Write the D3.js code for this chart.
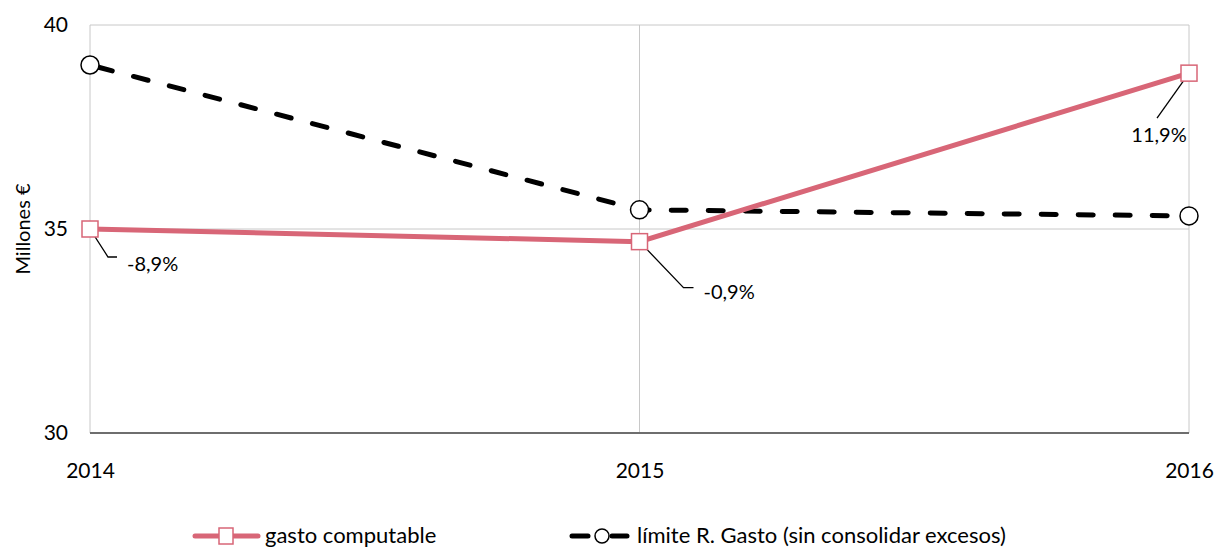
<!DOCTYPE html>
<html><head><meta charset="utf-8">
<script src="https://cdn.jsdelivr.net/npm/d3@7"></script>
<style>body{margin:0;background:#fff}svg{display:block;font-family:Lato,"Open Sans",sans-serif}</style>
</head><body><div id="c"></div>
<script>
const years = ["2014","2015","2016"];
const gasto = [35.0, 34.69, 38.82];
const limite = [39.02, 35.47, 35.32];
const gastoLabels = ["-8,9%","-0,9%","11,9%"];
const yTicks = [30,35,40];
const seriesNames = ["gasto computable","límite R. Gasto (sin consolidar excesos)"];

const W=1219,H=550;
const svg=d3.select("#c").append("svg").attr("width",W).attr("height",H);
const x=d3.scalePoint().domain(years).range([90,1189]);
const y=d3.scaleLinear().domain([30,40]).range([433,25]);
const pink="#d86677";
const fs=21;

// grid
const g=svg.append("g");
g.selectAll(".hg").data(yTicks).join("line").attr("x1",90).attr("x2",1189)
 .attr("y1",d=>y(d)).attr("y2",d=>y(d)).attr("stroke","#c8c8c8").attr("stroke-width",1);
g.selectAll(".vg").data(years).join("line").attr("x1",d=>x(d)).attr("x2",d=>x(d))
 .attr("y1",25).attr("y2",433).attr("stroke","#c8c8c8").attr("stroke-width",1);
g.append("line").attr("x1",90).attr("x2",1189).attr("y1",433).attr("y2",433).attr("stroke","#6e6e6e").attr("stroke-width",2);

// axes labels
const yAxis=d3.axisLeft(y).tickValues(yTicks).tickSize(0).tickPadding(22);
const ya=svg.append("g").attr("transform","translate(90,0)").call(yAxis);
ya.select(".domain").remove();
ya.selectAll("text").attr("font-size",fs).attr("fill","#000").style("font-family","Lato");
const xAxis=d3.axisBottom(x).tickSize(0).tickPadding(30);
const xa=svg.append("g").attr("transform","translate(0,433)").call(xAxis);
xa.select(".domain").remove();
xa.selectAll("text").attr("font-size",fs).attr("fill","#000").style("font-family","Lato");

svg.append("text").attr("transform","translate(30,229) rotate(-90)").attr("text-anchor","middle")
 .attr("font-size",20).text("Millones €");

// lines
const line=d3.line().x((d,i)=>x(years[i])).y(d=>y(d));
svg.append("path").datum(limite).attr("d",line).attr("fill","none").attr("stroke","#000")
 .attr("stroke-width",5).attr("stroke-dasharray","15,22").attr("stroke-dashoffset",-8).attr("stroke-linecap","round");
svg.append("path").datum(gasto).attr("d",line).attr("fill","none").attr("stroke",pink)
 .attr("stroke-width",5);

// leader lines & labels
const offs=[{dx:[18,27],dy:28,tx:37,ty:42,anchor:"start"},
            {dx:[44,54],dy:46,tx:64,ty:57,anchor:"start"},
            {dx:[-32,-32],dy:45,tx:-30,ty:69,anchor:"middle"}];
gasto.forEach((v,i)=>{
  const px=x(years[i]),py=y(v),o=offs[i];
  const pts=[[px,py],[px+o.dx[0],py+o.dy],[px+o.dx[1],py+o.dy]];
  svg.append("path").attr("d",d3.line()(pts)).attr("fill","none").attr("stroke","#000").attr("stroke-width",1.3);
  svg.append("text").attr("x",px+o.tx).attr("y",py+o.ty).attr("text-anchor",o.anchor)
   .attr("font-size",20).text(gastoLabels[i]);
});

// markers
svg.selectAll(".sq").data(gasto).join("rect").attr("x",(d,i)=>x(years[i])-8).attr("y",d=>y(d)-8)
 .attr("width",16).attr("height",16).attr("fill","#fff").attr("stroke",pink).attr("stroke-width",1.5);
svg.selectAll(".ci").data(limite).join("circle").attr("cx",(d,i)=>x(years[i])).attr("cy",d=>y(d))
 .attr("r",9).attr("fill","#fff").attr("stroke","#000").attr("stroke-width",1.5);

// legend
const lg=svg.append("g");
lg.append("line").attr("x1",195).attr("x2",258).attr("y1",536).attr("y2",536).attr("stroke",pink).attr("stroke-width",5).attr("stroke-linecap","round");
lg.append("rect").attr("x",219).attr("y",528).attr("width",14).attr("height",16).attr("fill","#fff").attr("stroke",pink).attr("stroke-width",1.5);
lg.append("text").attr("x",265).attr("y",543).attr("font-size",22).text(seriesNames[0]);
lg.append("line").attr("x1",572).attr("x2",588).attr("y1",536).attr("y2",536).attr("stroke","#000").attr("stroke-width",5).attr("stroke-linecap","round");
lg.append("line").attr("x1",612).attr("x2",627).attr("y1",536).attr("y2",536).attr("stroke","#000").attr("stroke-width",5).attr("stroke-linecap","round");
lg.append("circle").attr("cx",602).attr("cy",536).attr("r",7).attr("fill","#fff").attr("stroke","#000").attr("stroke-width",1.5);
lg.append("text").attr("x",637).attr("y",543).attr("font-size",22).text(seriesNames[1]);
</script></body></html>
